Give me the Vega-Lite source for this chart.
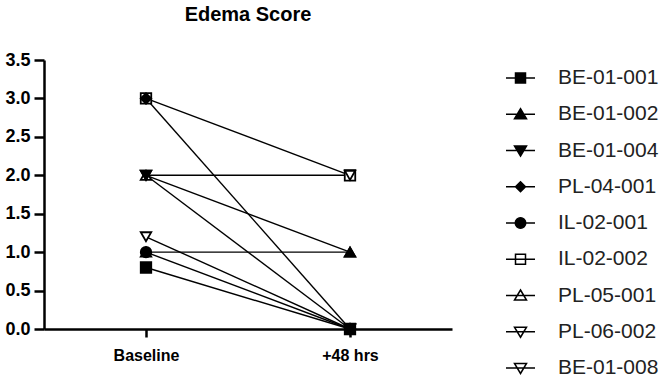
{
  "$schema": "https://vega.github.io/schema/vega-lite/v6.json",
  "width": 408,
  "height": 269,
  "autosize": "none",
  "padding": {"left": 44, "top": 60, "right": 212, "bottom": 48},
  "background": "white",
  "config": {"view": {"stroke": null}, "font": "Liberation Sans"},
  "title": {"text": "Edema Score", "fontSize": 20, "fontWeight": "bold", "font": "Liberation Sans", "color": "black", "anchor": "middle", "offset": 26},
  "data": {"values": [
    {"subject": "IL-02-002", "time": "Baseline", "score": 3.0},
    {"subject": "IL-02-002", "time": "+48 hrs", "score": 2.0},
    {"subject": "PL-04-001", "time": "Baseline", "score": 3.0},
    {"subject": "PL-04-001", "time": "+48 hrs", "score": 0.0},
    {"subject": "PL-05-001", "time": "Baseline", "score": 2.0},
    {"subject": "PL-05-001", "time": "+48 hrs", "score": 1.0},
    {"subject": "PL-06-002", "time": "Baseline", "score": 2.0},
    {"subject": "PL-06-002", "time": "+48 hrs", "score": 2.0},
    {"subject": "BE-01-008", "time": "Baseline", "score": 1.2},
    {"subject": "BE-01-008", "time": "+48 hrs", "score": 0.0},
    {"subject": "IL-02-001", "time": "Baseline", "score": 1.0},
    {"subject": "IL-02-001", "time": "+48 hrs", "score": 0.0},
    {"subject": "BE-01-002", "time": "Baseline", "score": 1.0},
    {"subject": "BE-01-002", "time": "+48 hrs", "score": 1.0},
    {"subject": "BE-01-001", "time": "Baseline", "score": 0.8},
    {"subject": "BE-01-001", "time": "+48 hrs", "score": 0.0},
    {"subject": "BE-01-004", "time": "Baseline", "score": 2.0},
    {"subject": "BE-01-004", "time": "+48 hrs", "score": 0.0}
  ]},
  "encoding": {
    "x": {"field": "time", "type": "nominal", "sort": ["Baseline", "+48 hrs"],
      "scale": {"type": "point", "padding": 0.5},
      "axis": {"title": null, "labelAngle": 0, "labelFontSize": 16, "labelFontWeight": "bold", "labelColor": "black", "labelFont": "Liberation Sans", "domainColor": "black", "domainWidth": 2.5, "tickColor": "black", "tickWidth": 2.5, "tickSize": 8, "labelPadding": 10, "grid": false}},
    "y": {"field": "score", "type": "quantitative",
      "scale": {"domain": [0, 3.5], "nice": false},
      "axis": {"title": null, "values": [0, 0.5, 1, 1.5, 2, 2.5, 3, 3.5], "format": ".1f", "labelFontSize": 18, "labelFontWeight": "bold", "labelColor": "black", "labelFont": "Liberation Sans", "domainColor": "black", "domainWidth": 2.5, "tickColor": "black", "tickWidth": 2.5, "tickSize": 10, "labelPadding": 4, "grid": false}}
  },
  "layer": [
    {"mark": {"type": "line", "color": "black", "strokeWidth": 1.4},
     "encoding": {"detail": {"field": "subject"}}},
    {"mark": {"type": "point", "stroke": "black", "strokeWidth": 1.8, "opacity": 1, "size": 110},
     "encoding": {
       "shape": {"field": "subject", "type": "nominal", "legend": null,
         "scale": {"domain": ["BE-01-008", "PL-06-002", "PL-05-001", "IL-02-002", "IL-02-001", "PL-04-001", "BE-01-004", "BE-01-002", "BE-01-001"],
           "range": ["triangle-down", "triangle-down", "triangle-up", "square", "circle", "diamond", "triangle-down", "triangle-up", "square"]}},
       "fill": {"field": "subject", "type": "nominal",
         "scale": {"domain": ["BE-01-001", "BE-01-002", "BE-01-004", "PL-04-001", "IL-02-001", "IL-02-002", "PL-05-001", "PL-06-002", "BE-01-008"],
           "range": ["black", "black", "black", "black", "black", "white", "white", "white", "white"]},
         "legend": {"title": null, "orient": "none", "legendX": 466, "legendY": 7.5, "symbolSize": 100, "symbolOpacity": 1, "symbolStrokeColor": "black", "symbolStrokeWidth": 1.5, "labelFontSize": 21, "labelFont": "Liberation Sans", "labelColor": "#222222", "labelOffset": 27, "rowPadding": 14.25, "padding": 0, "labelLimit": 300,
           "encode": {"symbols": {"update": {
             "shape": {"signal": "{'BE-01-001':'M-2.9,0H2.9M-1,-1H1V1H-1Z','BE-01-002':'M-2.9,0H2.9M0,-1.1L1.2,0.9H-1.2Z','BE-01-004':'M-2.9,0H2.9M0,1.1L1.2,-0.9H-1.2Z','PL-04-001':'M-2.9,0H2.9M0,-1L1,0L0,1L-1,0Z','IL-02-001':'M-2.9,0H2.9M-1.05,0A1.05,1.05,0,1,0,1.05,0A1.05,1.05,0,1,0,-1.05,0Z','IL-02-002':'M-2.9,0H2.9M-1,-1H1V1H-1Z','PL-05-001':'M-2.9,0H2.9M0,-1.1L1.2,0.9H-1.2Z','PL-06-002':'M-2.9,0H2.9M0,1.1L1.2,-0.9H-1.2Z','BE-01-008':'M-2.9,0H2.9M0,1.1L1.2,-0.9H-1.2Z'}[datum.value]"},
             "stroke": {"value": "black"},
             "strokeWidth": {"value": 1.5},
             "size": {"value": 100}}}}}}
     }}
  ]
}
